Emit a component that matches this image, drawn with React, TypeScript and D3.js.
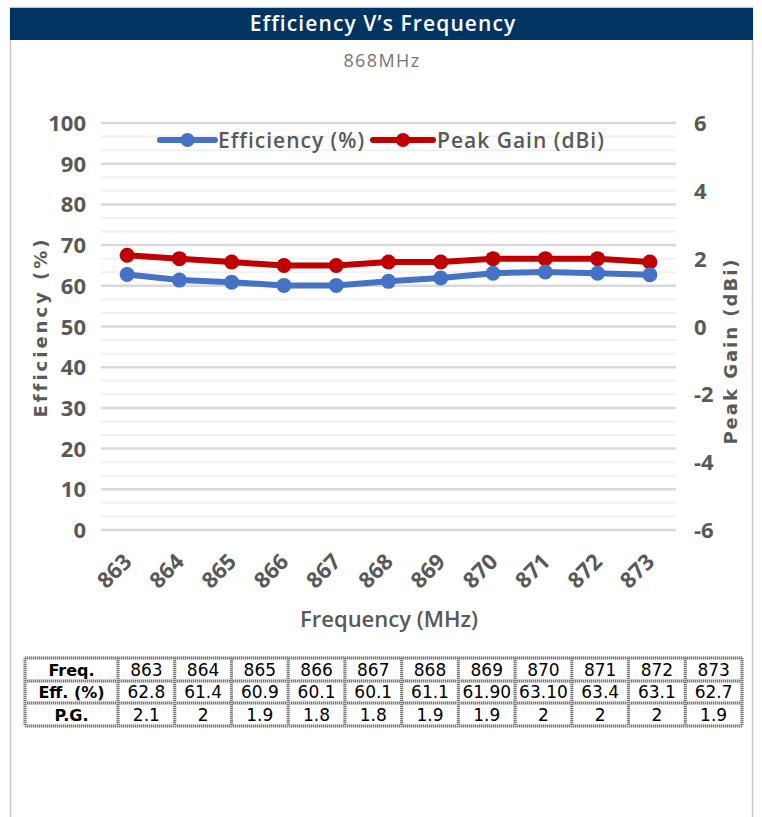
import React, { useEffect, useRef } from 'react';
import * as d3 from 'd3';

const freqs = [863, 864, 865, 866, 867, 868, 869, 870, 871, 872, 873];
const efficiency = [62.8, 61.4, 60.9, 60.1, 60.1, 61.1, 61.9, 63.1, 63.4, 63.1, 62.7];
const peakGain = [2.1, 2, 1.9, 1.8, 1.8, 1.9, 1.9, 2, 2, 2, 1.9];
const effLabels = ['62.8', '61.4', '60.9', '60.1', '60.1', '61.1', '61.90', '63.10', '63.4', '63.1', '62.7'];
const gainLabels = ['2.1', '2', '1.9', '1.8', '1.8', '1.9', '1.9', '2', '2', '2', '1.9'];
const leftTicks = [0, 10, 20, 30, 40, 50, 60, 70, 80, 90, 100];
const rightTicks = [-6, -4, -2, 0, 2, 4, 6];

const BLUE = '#4472c4';
const RED = '#c00000';
const GREY = '#595959';

const App = () => {
  const ref = useRef<SVGSVGElement>(null);

  useEffect(() => {
    const svg = d3.select(ref.current);
    svg.selectAll('*').remove();

    const W = 762, H = 817;

    // card
    svg.append('rect').attr('x', 0).attr('y', 0).attr('width', W).attr('height', H).attr('fill', '#fff');
    svg.append('path')
      .attr('d', `M10.5,${H} V7.5 H752.5 V${H}`)
      .attr('fill', 'none').attr('stroke', '#c8c8c8').attr('stroke-width', 1.5);
    svg.append('rect').attr('x', 10).attr('y', 8).attr('width', 743).attr('height', 32).attr('fill', '#003463');
    svg.append('text').attr('x', 383).attr('y', 31).attr('text-anchor', 'middle')
      .attr('font-family', 'Open Sans').attr('font-weight', 600).attr('font-size', 21)
      .attr('letter-spacing', 1.1)
      .attr('fill', '#fff').text('Efficiency V\u2019s Frequency');
    svg.append('text').attr('x', 382).attr('y', 67).attr('text-anchor', 'middle')
      .attr('font-family', 'Open Sans').attr('font-size', 18).attr('letter-spacing', 1.4)
      .attr('fill', '#767676').text('868MHz');

    // scales
    const x = d3.scaleBand<number>().domain(freqs).range([101, 676]);
    const cx = (f: number) => (x(f) as number) + x.bandwidth() / 2;
    const yL = d3.scaleLinear().domain([0, 100]).range([530, 123]);
    const yR = d3.scaleLinear().domain([-6, 6]).range([530, 123]);

    // gridlines
    const g = svg.append('g');
    const minor = d3.range(0, 100, 10 / 3).filter(v => Math.abs(v / 10 - Math.round(v / 10)) > 0.01);
    g.selectAll('line.minor').data(minor).join('line')
      .attr('x1', 101).attr('x2', 676)
      .attr('y1', d => yL(d)).attr('y2', d => yL(d))
      .attr('stroke', '#f0f0f0').attr('stroke-width', 2);
    g.selectAll('line.major').data(leftTicks).join('line')
      .attr('x1', 101).attr('x2', 676)
      .attr('y1', d => yL(d)).attr('y2', d => yL(d))
      .attr('stroke', '#d9d9d9').attr('stroke-width', 2.5);

    // left axis labels
    svg.append('g').selectAll('text').data(leftTicks).join('text')
      .attr('x', 86).attr('y', d => yL(d) + 8).attr('text-anchor', 'end')
      .attr('font-family', 'Open Sans').attr('font-weight', 700).attr('font-size', 22)
      .attr('fill', GREY).text(d => d);

    // right axis labels
    svg.append('g').selectAll('text').data(rightTicks).join('text')
      .attr('x', 694).attr('y', d => yR(d) + 8).attr('text-anchor', 'start')
      .attr('font-family', 'Open Sans').attr('font-weight', 700).attr('font-size', 22)
      .attr('fill', GREY).text(d => d);

    // x tick labels
    svg.append('g').selectAll('text').data(freqs).join('text')
      .attr('transform', d => `translate(${cx(d) + 6},${563}) rotate(-45)`)
      .attr('text-anchor', 'end')
      .attr('font-family', 'Open Sans').attr('font-weight', 700).attr('font-size', 22)
      .attr('fill', GREY).text(d => d);

    // axis titles
    svg.append('text').attr('transform', 'translate(47,327) rotate(-90)').attr('text-anchor', 'middle')
      .attr('font-family', 'DejaVu Sans').attr('font-weight', 700).attr('font-size', 18)
      .attr('letter-spacing', 3)
      .attr('fill', GREY).text('Efficiency (%)');
    svg.append('text').attr('transform', 'translate(737,351) rotate(-90)').attr('text-anchor', 'middle')
      .attr('font-family', 'DejaVu Sans').attr('font-weight', 700).attr('font-size', 18)
      .attr('letter-spacing', 2)
      .attr('fill', GREY).text('Peak Gain (dBi)');
    svg.append('text').attr('x', 389).attr('y', 627).attr('text-anchor', 'middle')
      .attr('font-family', 'Open Sans').attr('font-weight', 600).attr('font-size', 22)
      .attr('fill', GREY).text('Frequency (MHz)');

    // series
    const lineL = d3.line<number>().x((_, i) => cx(freqs[i])).y(d => yL(d));
    const lineR = d3.line<number>().x((_, i) => cx(freqs[i])).y(d => yR(d));

    svg.append('path').datum(peakGain).attr('d', lineR)
      .attr('fill', 'none').attr('stroke', RED).attr('stroke-width', 6).attr('stroke-linejoin', 'round');
    svg.append('g').selectAll('circle').data(peakGain).join('circle')
      .attr('cx', (_, i) => cx(freqs[i])).attr('cy', d => yR(d)).attr('r', 7.5).attr('fill', RED);

    svg.append('path').datum(efficiency).attr('d', lineL)
      .attr('fill', 'none').attr('stroke', BLUE).attr('stroke-width', 6).attr('stroke-linejoin', 'round');
    svg.append('g').selectAll('circle').data(efficiency).join('circle')
      .attr('cx', (_, i) => cx(freqs[i])).attr('cy', d => yL(d)).attr('r', 7.5).attr('fill', BLUE);

    // legend
    const legend = [
      { name: 'Efficiency (%)', color: BLUE, x0: 160, x1: 215, tx: 218 },
      { name: 'Peak Gain (dBi)', color: RED, x0: 373, x1: 433, tx: 437 },
    ];
    const lg = svg.append('g');
    legend.forEach(l => {
      lg.append('line').attr('x1', l.x0).attr('x2', l.x1).attr('y1', 140).attr('y2', 140)
        .attr('stroke', l.color).attr('stroke-width', 6).attr('stroke-linecap', 'round');
      lg.append('circle').attr('cx', (l.x0 + l.x1) / 2).attr('cy', 140).attr('r', 7).attr('fill', l.color);
      lg.append('text').attr('x', l.tx).attr('y', 148)
        .attr('font-family', 'Open Sans').attr('font-weight', 600).attr('font-size', 21)
        .attr('letter-spacing', 1)
        .attr('fill', GREY).text(l.name);
    });

    // data table
    const tx0 = 25, tx1 = 742, firstW = 93;
    const colW = (tx1 - tx0 - firstW) / freqs.length;
    const rowY = [658, 681, 703, 726];
    const rows = [
      { head: 'Freq.', vals: freqs.map(String) },
      { head: 'Eff. (%)', vals: effLabels },
      { head: 'P.G.', vals: gainLabels },
    ];
    const tg = svg.append('g');
    const border = (x1: number, y1: number, x2: number, y2: number) => {
      tg.append('line').attr('x1', x1).attr('y1', y1).attr('x2', x2).attr('y2', y2)
        .attr('stroke', '#d0d0d0').attr('stroke-width', 3);
      tg.append('line').attr('x1', x1).attr('y1', y1).attr('x2', x2).attr('y2', y2)
        .attr('stroke', '#7a7a7a').attr('stroke-width', 3).attr('stroke-dasharray', '1 1');
    };
    rowY.forEach(y => border(tx0, y, tx1, y));
    const colX = [tx0, ...d3.range(freqs.length + 1).map(i => tx0 + firstW + i * colW)];
    colX.forEach(xx => border(xx, rowY[0], xx, rowY[3]));
    rows.forEach((r, ri) => {
      const yMid = (rowY[ri] + rowY[ri + 1]) / 2;
      tg.append('text').attr('x', tx0 + firstW / 2).attr('y', yMid + 6).attr('text-anchor', 'middle')
        .attr('font-family', 'DejaVu Sans').attr('font-weight', 700).attr('font-size', 16)
        .attr('fill', '#000').text(r.head);
      r.vals.forEach((v, i) => {
        tg.append('text').attr('x', tx0 + firstW + (i + 0.5) * colW).attr('y', yMid + 6)
          .attr('text-anchor', 'middle')
          .attr('font-family', 'DejaVu Sans').attr('font-size', 17)
          .attr('fill', '#000').text(v);
      });
    });
  }, []);

  return (
    <svg ref={ref} width={762} height={817}
      style={{ position: 'absolute', left: 0, top: 0, display: 'block' }} />
  );
};

export default App;
